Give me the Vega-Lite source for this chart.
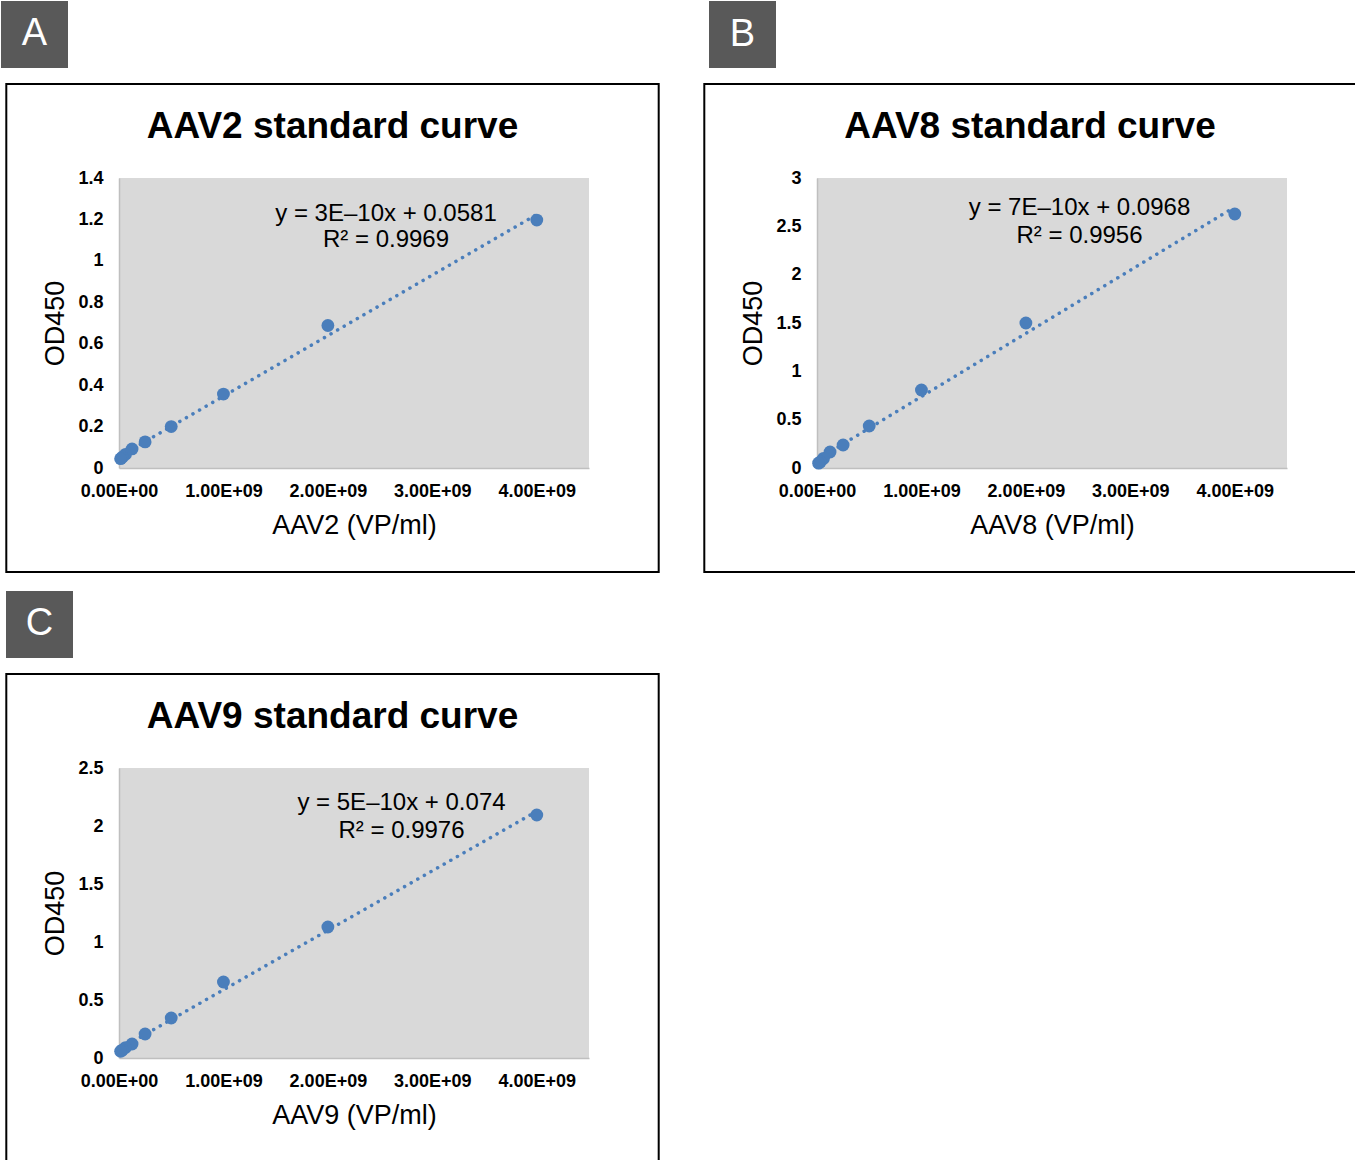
{
  "$schema": "https://vega.github.io/schema/vega-lite/v6.json",
  "padding": {"left": 0, "top": 1, "right": 0, "bottom": 0},
  "background": "white",
  "columns": 2,
  "spacing": {"column": 228, "row": 300},
  "bounds": "flush",
  "config": {
    "view": {"fill": "#d9d9d9", "stroke": null},
    "axis": {
      "labelFont": "Liberation Sans", "labelFontWeight": "bold", "labelFontSize": 18, "labelColor": "#000000",
      "titleFont": "Liberation Sans", "titleFontWeight": "normal", "titleFontSize": 27, "titleColor": "#000000",
      "grid": false, "ticks": false, "tickSize": 0, "domainColor": "#bfbfbf", "domainWidth": 1.5,
      "labelFlush": false, "labelOverlap": false
    },
    "axisX": {"labelPadding": 14, "titlePadding": 12},
    "axisY": {"labelPadding": 16, "titlePadding": 8},
    "text": {"font": "Liberation Sans"}
  },
  "datasets": {
    "aav2": [
      {"vp": 4000000000, "od": 1.197}, {"vp": 2000000000, "od": 0.688}, {"vp": 1000000000, "od": 0.357},
      {"vp": 500000000, "od": 0.200}, {"vp": 250000000, "od": 0.126}, {"vp": 125000000, "od": 0.092},
      {"vp": 62500000, "od": 0.066}, {"vp": 31250000, "od": 0.052}, {"vp": 15625000, "od": 0.045}
    ],
    "aav8": [
      {"vp": 4000000000, "od": 2.628}, {"vp": 2000000000, "od": 1.500}, {"vp": 1000000000, "od": 0.807},
      {"vp": 500000000, "od": 0.434}, {"vp": 250000000, "od": 0.238}, {"vp": 125000000, "od": 0.166},
      {"vp": 62500000, "od": 0.100}, {"vp": 31250000, "od": 0.062}, {"vp": 15625000, "od": 0.050}
    ],
    "aav9": [
      {"vp": 4000000000, "od": 2.095}, {"vp": 2000000000, "od": 1.129}, {"vp": 1000000000, "od": 0.655},
      {"vp": 500000000, "od": 0.345}, {"vp": 250000000, "od": 0.207}, {"vp": 125000000, "od": 0.121},
      {"vp": 62500000, "od": 0.090}, {"vp": 31250000, "od": 0.068}, {"vp": 15625000, "od": 0.058}
    ]
  },
  "concat": [
    {
      "width": 470, "height": 290,
      "title": {"text": "AAV2 standard curve", "font": "Liberation Sans", "fontSize": 37, "fontWeight": "bold", "color": "#000000", "frame": "group", "anchor": "middle", "baseline": "middle", "dx": -21.5, "offset": -163},
      "layer": [
        {"data": {"values": [{}]}, "mark": {"type": "rect", "filled": false, "stroke": "#000000", "strokeWidth": 2},
         "encoding": {"x": {"datum": -1079040000, "type": "quantitative", "scale": {"domain": [0, 4500000000], "nice": false, "zero": false}}, "x2": {"datum": 5167340000},
                      "y": {"datum": 1.85379, "type": "quantitative", "scale": {"domain": [0, 1.4], "nice": false, "zero": false}}, "y2": {"datum": -0.50207}}},
        {"data": {"values": [{}]}, "mark": {"type": "rect", "fill": "#595959"},
         "encoding": {"x": {"datum": -1129790000, "type": "quantitative", "scale": {"domain": [0, 4500000000], "nice": false, "zero": false}}, "x2": {"datum": -488298000},
                      "y": {"datum": 2.25448, "type": "quantitative", "scale": {"domain": [0, 1.4], "nice": false, "zero": false}}, "y2": {"datum": 1.93103}}},
        {"data": {"values": [{}]}, "mark": {"type": "text", "text": "A", "fontSize": 38, "color": "#ffffff", "align": "center", "baseline": "middle"},
         "encoding": {"x": {"datum": -809043000, "type": "quantitative", "scale": {"domain": [0, 4500000000], "nice": false, "zero": false}},
                      "y": {"datum": 2.09276, "type": "quantitative", "scale": {"domain": [0, 1.4], "nice": false, "zero": false}}}},
        {"data": {"name": "aav2"}, "transform": [{"regression": "od", "on": "vp"}],
         "mark": {"type": "line", "color": "#4a7ebb", "strokeWidth": 3.5, "strokeDash": [0.1, 7.5], "strokeCap": "round"},
         "encoding": {"x": {"field": "vp", "type": "quantitative", "scale": {"domain": [0, 4500000000], "nice": false, "zero": false}},
                      "y": {"field": "od", "type": "quantitative", "scale": {"domain": [0, 1.4], "nice": false, "zero": false}}}},
        {"data": {"name": "aav2"}, "mark": {"type": "circle", "color": "#4a7ebb", "size": 165, "opacity": 1},
         "encoding": {"x": {"field": "vp", "type": "quantitative", "scale": {"domain": [0, 4500000000], "nice": false, "zero": false},
                            "axis": {"values": [0, 1000000000, 2000000000, 3000000000, 4000000000], "labelExpr": "replace(format(datum.value, '.2e'), 'e+', 'E+0')", "title": "AAV2 (VP/ml)"}},
                      "y": {"field": "od", "type": "quantitative", "scale": {"domain": [0, 1.4], "nice": false, "zero": false},
                            "axis": {"values": [0, 0.2, 0.4, 0.6, 0.8, 1, 1.2, 1.4], "format": "~g", "title": "OD450"}}}},
        {"data": {"values": [{}]}, "mark": {"type": "text", "text": "y = 3E–10x + 0.0581", "fontSize": 24, "color": "#000000", "align": "center", "baseline": "middle"},
         "encoding": {"x": {"datum": 2556380000, "type": "quantitative", "scale": {"domain": [0, 4500000000], "nice": false, "zero": false}},
                      "y": {"datum": 1.22621, "type": "quantitative", "scale": {"domain": [0, 1.4], "nice": false, "zero": false}}}},
        {"data": {"values": [{}]}, "mark": {"type": "text", "text": "R² = 0.9969", "fontSize": 24, "color": "#000000", "align": "center", "baseline": "middle"},
         "encoding": {"x": {"datum": 2556380000, "type": "quantitative", "scale": {"domain": [0, 4500000000], "nice": false, "zero": false}},
                      "y": {"datum": 1.10069, "type": "quantitative", "scale": {"domain": [0, 1.4], "nice": false, "zero": false}}}}
      ]
    },
    {
      "width": 470, "height": 290,
      "title": {"text": "AAV8 standard curve", "font": "Liberation Sans", "fontSize": 37, "fontWeight": "bold", "color": "#000000", "frame": "group", "anchor": "middle", "baseline": "middle", "dx": -22, "offset": -163},
      "layer": [
        {"data": {"values": [{}]}, "mark": {"type": "rect", "filled": false, "stroke": "#000000", "strokeWidth": 2},
         "encoding": {"x": {"datum": -1079040000, "type": "quantitative", "scale": {"domain": [0, 4500000000], "nice": false, "zero": false}}, "x2": {"datum": 5218090000},
                      "y": {"datum": 3.97241, "type": "quantitative", "scale": {"domain": [0, 3], "nice": false, "zero": false}}, "y2": {"datum": -1.07586}}},
        {"data": {"values": [{}]}, "mark": {"type": "rect", "fill": "#595959"},
         "encoding": {"x": {"datum": -1034040000, "type": "quantitative", "scale": {"domain": [0, 4500000000], "nice": false, "zero": false}}, "x2": {"datum": -392553000},
                      "y": {"datum": 4.83103, "type": "quantitative", "scale": {"domain": [0, 3], "nice": false, "zero": false}}, "y2": {"datum": 4.13793}}},
        {"data": {"values": [{}]}, "mark": {"type": "text", "text": "B", "fontSize": 38, "color": "#ffffff", "align": "center", "baseline": "middle"},
         "encoding": {"x": {"datum": -713298000, "type": "quantitative", "scale": {"domain": [0, 4500000000], "nice": false, "zero": false}},
                      "y": {"datum": 4.48448, "type": "quantitative", "scale": {"domain": [0, 3], "nice": false, "zero": false}}}},
        {"data": {"name": "aav8"}, "transform": [{"regression": "od", "on": "vp"}],
         "mark": {"type": "line", "color": "#4a7ebb", "strokeWidth": 3.5, "strokeDash": [0.1, 7.5], "strokeCap": "round"},
         "encoding": {"x": {"field": "vp", "type": "quantitative", "scale": {"domain": [0, 4500000000], "nice": false, "zero": false}},
                      "y": {"field": "od", "type": "quantitative", "scale": {"domain": [0, 3], "nice": false, "zero": false}}}},
        {"data": {"name": "aav8"}, "mark": {"type": "circle", "color": "#4a7ebb", "size": 165, "opacity": 1},
         "encoding": {"x": {"field": "vp", "type": "quantitative", "scale": {"domain": [0, 4500000000], "nice": false, "zero": false},
                            "axis": {"values": [0, 1000000000, 2000000000, 3000000000, 4000000000], "labelExpr": "replace(format(datum.value, '.2e'), 'e+', 'E+0')", "title": "AAV8 (VP/ml)"}},
                      "y": {"field": "od", "type": "quantitative", "scale": {"domain": [0, 3], "nice": false, "zero": false},
                            "axis": {"values": [0, 0.5, 1, 1.5, 2, 2.5, 3], "format": "~g", "title": "OD450"}}}},
        {"data": {"values": [{}]}, "mark": {"type": "text", "text": "y = 7E–10x + 0.0968", "fontSize": 24, "color": "#000000", "align": "center", "baseline": "middle"},
         "encoding": {"x": {"datum": 2513300000, "type": "quantitative", "scale": {"domain": [0, 4500000000], "nice": false, "zero": false}},
                      "y": {"datum": 2.68966, "type": "quantitative", "scale": {"domain": [0, 3], "nice": false, "zero": false}}}},
        {"data": {"values": [{}]}, "mark": {"type": "text", "text": "R² = 0.9956", "fontSize": 24, "color": "#000000", "align": "center", "baseline": "middle"},
         "encoding": {"x": {"datum": 2513300000, "type": "quantitative", "scale": {"domain": [0, 4500000000], "nice": false, "zero": false}},
                      "y": {"datum": 2.4, "type": "quantitative", "scale": {"domain": [0, 3], "nice": false, "zero": false}}}}
      ]
    },
    {
      "width": 470, "height": 290,
      "title": {"text": "AAV9 standard curve", "font": "Liberation Sans", "fontSize": 37, "fontWeight": "bold", "color": "#000000", "frame": "group", "anchor": "middle", "baseline": "middle", "dx": -21.5, "offset": -163},
      "layer": [
        {"data": {"values": [{}]}, "mark": {"type": "rect", "filled": false, "stroke": "#000000", "strokeWidth": 2},
         "encoding": {"x": {"datum": -1079040000, "type": "quantitative", "scale": {"domain": [0, 4500000000], "nice": false, "zero": false}}, "x2": {"datum": 5167340000},
                      "y": {"datum": 3.31034, "type": "quantitative", "scale": {"domain": [0, 2.5], "nice": false, "zero": false}}, "y2": {"datum": -0.92241}}},
        {"data": {"values": [{}]}, "mark": {"type": "rect", "fill": "#595959"},
         "encoding": {"x": {"datum": -1081910000, "type": "quantitative", "scale": {"domain": [0, 4500000000], "nice": false, "zero": false}}, "x2": {"datum": -440426000},
                      "y": {"datum": 4.02586, "type": "quantitative", "scale": {"domain": [0, 2.5], "nice": false, "zero": false}}, "y2": {"datum": 3.44828}}},
        {"data": {"values": [{}]}, "mark": {"type": "text", "text": "C", "fontSize": 38, "color": "#ffffff", "align": "center", "baseline": "middle"},
         "encoding": {"x": {"datum": -761170000, "type": "quantitative", "scale": {"domain": [0, 4500000000], "nice": false, "zero": false}},
                      "y": {"datum": 3.73707, "type": "quantitative", "scale": {"domain": [0, 2.5], "nice": false, "zero": false}}}},
        {"data": {"name": "aav9"}, "transform": [{"regression": "od", "on": "vp"}],
         "mark": {"type": "line", "color": "#4a7ebb", "strokeWidth": 3.5, "strokeDash": [0.1, 7.5], "strokeCap": "round"},
         "encoding": {"x": {"field": "vp", "type": "quantitative", "scale": {"domain": [0, 4500000000], "nice": false, "zero": false}},
                      "y": {"field": "od", "type": "quantitative", "scale": {"domain": [0, 2.5], "nice": false, "zero": false}}}},
        {"data": {"name": "aav9"}, "mark": {"type": "circle", "color": "#4a7ebb", "size": 165, "opacity": 1},
         "encoding": {"x": {"field": "vp", "type": "quantitative", "scale": {"domain": [0, 4500000000], "nice": false, "zero": false},
                            "axis": {"values": [0, 1000000000, 2000000000, 3000000000, 4000000000], "labelExpr": "replace(format(datum.value, '.2e'), 'e+', 'E+0')", "title": "AAV9 (VP/ml)"}},
                      "y": {"field": "od", "type": "quantitative", "scale": {"domain": [0, 2.5], "nice": false, "zero": false},
                            "axis": {"values": [0, 0.5, 1, 1.5, 2, 2.5], "format": "~g", "title": "OD450"}}}},
        {"data": {"values": [{}]}, "mark": {"type": "text", "text": "y = 5E–10x + 0.074", "fontSize": 24, "color": "#000000", "align": "center", "baseline": "middle"},
         "encoding": {"x": {"datum": 2704790000, "type": "quantitative", "scale": {"domain": [0, 4500000000], "nice": false, "zero": false}},
                      "y": {"datum": 2.19828, "type": "quantitative", "scale": {"domain": [0, 2.5], "nice": false, "zero": false}}}},
        {"data": {"values": [{}]}, "mark": {"type": "text", "text": "R² = 0.9976", "fontSize": 24, "color": "#000000", "align": "center", "baseline": "middle"},
         "encoding": {"x": {"datum": 2704790000, "type": "quantitative", "scale": {"domain": [0, 4500000000], "nice": false, "zero": false}},
                      "y": {"datum": 1.9569, "type": "quantitative", "scale": {"domain": [0, 2.5], "nice": false, "zero": false}}}}
      ]
    }
  ]
}
